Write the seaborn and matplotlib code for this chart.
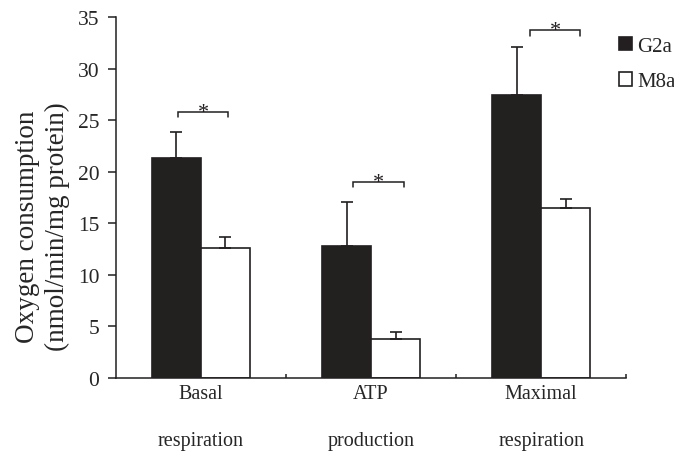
import matplotlib
matplotlib.use("Agg")
import matplotlib.pyplot as plt
from matplotlib.patches import Patch
import seaborn as sns
import pandas as pd

# data
categories = ["Basal\nrespiration", "ATP\nproduction", "Maximal\nrespiration"]
groups = ["G2a", "M8a"]
g2a_mean = [21.3, 12.8, 27.4]
g2a_err = [2.6, 4.3, 4.7]
m8a_mean = [12.6, 3.8, 16.5]
m8a_err = [1.1, 0.7, 0.9]
sig_level = [25.8, 19.0, 33.7]
sig_text = ["*", "*", "*"]

df = pd.DataFrame({
    "cat": categories * 2,
    "group": [groups[0]] * 3 + [groups[1]] * 3,
    "value": g2a_mean + m8a_mean,
    "err": g2a_err + m8a_err,
})

sns.set_style("ticks")
plt.rcParams["font.family"] = ["Liberation Serif", "DejaVu Serif"]

fig = plt.figure(figsize=(6.74, 4.52), dpi=100)
ax = fig.add_axes([0.172, 0.1615, 0.757, 0.7985])

dark = "#231f20"
sns.barplot(data=df, x="cat", y="value", hue="group", order=categories,
            hue_order=groups, palette={"G2a": dark, "M8a": "white"},
            width=0.576, errorbar=None, edgecolor=dark, linewidth=1.2,
            legend=False, ax=ax)

# upper-only error bars on bar centres
for bar, (_, row) in zip(ax.patches, df.iterrows()):
    xc = bar.get_x() + bar.get_width() / 2
    ax.errorbar(xc, row["value"], yerr=[[0], [row["err"]]], fmt="none",
                ecolor=dark, elinewidth=1.2, capsize=4, capthick=1.2)

# significance brackets
br_left = [-0.135, -0.105, -0.065]
br_right = [0.159, 0.194, 0.229]
for i, lvl in enumerate(sig_level):
    xl, xr = i + br_left[i], i + br_right[i]
    ax.plot([xl, xl, xr, xr], [lvl - 0.5, lvl, lvl, lvl - 0.5],
            color=dark, lw=1.1, solid_joinstyle="miter")
    ax.text((xl + xr) / 2, lvl - 0.45, sig_text[i], ha="center",
            va="baseline", fontsize=16, color=dark)

ax.set_xlim(-0.5, 2.5)
ax.set_ylim(0, 35)
ax.set_yticks(range(0, 36, 5))
ax.set_xticks(range(3))
ax.set_xticklabels(categories, fontsize=14.5, linespacing=3.05)
ax.set_xticks([0.5, 1.5, 2.5], minor=True)
ax.tick_params(axis="x", which="major", length=0, pad=4)
ax.tick_params(axis="x", which="minor", direction="in", length=3,
               width=1.1, color=dark)
ax.tick_params(axis="y", direction="out", length=6, width=1.1,
               color=dark, labelsize=15.5, pad=6)
ax.set_xlabel("")
ax.set_ylabel("Oxygen consumption\n(nmol/min/mg protein)", fontsize=19.5,
              linespacing=1.25)
ax.yaxis.set_label_coords(-0.09, 0.421)

for side in ["top", "right"]:
    ax.spines[side].set_visible(False)
for side in ["left", "bottom"]:
    ax.spines[side].set_linewidth(1.1)
    ax.spines[side].set_color(dark)

handles = [Patch(facecolor=dark, edgecolor=dark, lw=1.2),
           Patch(facecolor="white", edgecolor=dark, lw=1.2)]
ax.legend(handles, groups, loc="upper left", bbox_to_anchor=(0.918, 0.917),
          bbox_transform=fig.transFigure, frameon=False, fontsize=15,
          handlelength=0.63, handleheight=0.63, handletextpad=0.25,
          labelspacing=0.8, borderaxespad=0, borderpad=0)

fig.savefig("out.png", dpi=100)
